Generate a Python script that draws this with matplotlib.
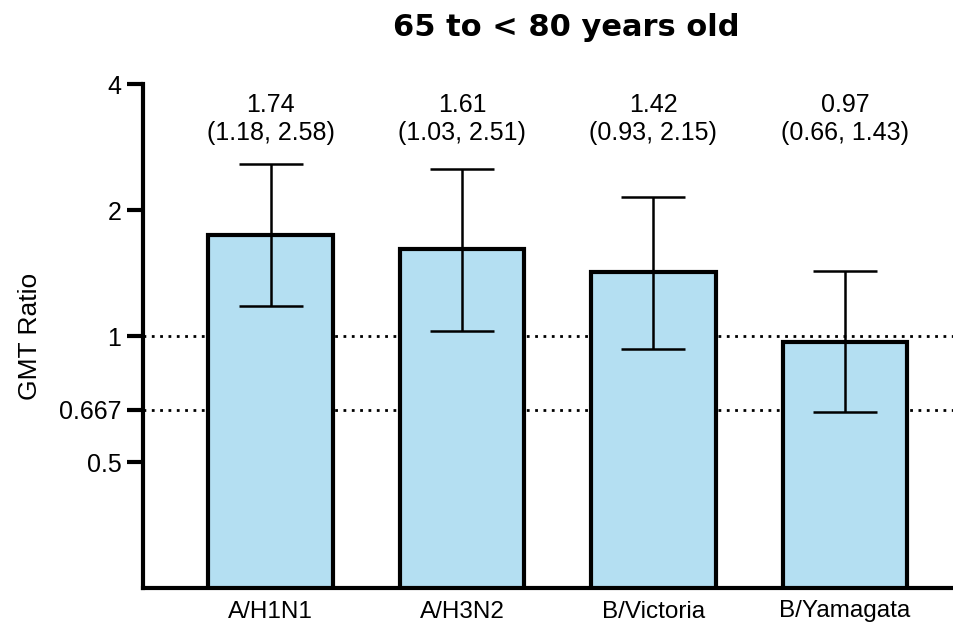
import numpy as np
import matplotlib
matplotlib.use("Agg")
import matplotlib.pyplot as plt
from matplotlib.ticker import FixedLocator, NullLocator

# GMT ratios with 95% CI per strain
strains = ["A/H1N1", "A/H3N2", "B/Victoria", "B/Yamagata"]
gmt_ratio = [1.74, 1.61, 1.42, 0.97]
ci_low = [1.18, 1.03, 0.93, 0.66]
ci_high = [2.58, 2.51, 2.15, 1.43]

ref_lines = [1, 0.667]
yticks = [0.5, 0.667, 1, 2, 4]
ytick_labels = ["0.5", "0.667", "1", "2", "4"]

plt.rcParams["font.family"] = ["Liberation Sans", "DejaVu Sans"]

fig = plt.figure(figsize=(9.54, 6.3), dpi=100)
ax = fig.add_axes([143 / 954, 1 - 588 / 630, 1 - 143 / 954, (588 - 84) / 630])

ax.set_yscale("log", base=2)

x = np.arange(len(strains))
gmt = np.array(gmt_ratio)
lo = np.array(ci_low)
hi = np.array(ci_high)

for r in ref_lines:
    ax.axhline(r, color="black", lw=2, ls=(0, (1, 2)), zorder=0)

ax.bar(x, gmt, width=0.65, color="#b4dff2", edgecolor="black", linewidth=3, zorder=2)
ax.errorbar(x, gmt, yerr=[gmt - lo, hi - gmt], fmt="none", ecolor="black",
            elinewidth=1.8, capsize=23, capthick=1.8, zorder=3)

for xi, g, l, h in zip(x, gmt_ratio, ci_low, ci_high):
    ax.text(xi, 3.3, f"{g:.2f}\n({l:.2f}, {h:.2f})", ha="center", va="center",
            fontsize=18, linespacing=1.25)

ax.set_ylim(0.25, 4)
ax.set_xlim(-0.666, 3.57)

ax.yaxis.set_major_locator(FixedLocator(yticks))
ax.yaxis.set_minor_locator(NullLocator())
ax.set_yticklabels(ytick_labels, fontsize=18)
ax.set_xticks(x)
ax.set_xticklabels(strains, fontsize=17.5)
ax.tick_params(axis="y", length=11.5, width=3, pad=4)
ax.tick_params(axis="x", length=0, pad=9)

for s in ["top", "right"]:
    ax.spines[s].set_visible(False)
for s in ["left", "bottom"]:
    ax.spines[s].set_linewidth(3)

ax.set_ylabel("GMT Ratio", fontsize=19, labelpad=12)

fig.text(566 / 954, 1 - 27 / 630, "65 to < 80 years old", ha="center", va="center",
         fontsize=22, fontweight="bold", family="DejaVu Sans")

fig.savefig("out.png", dpi=100)
